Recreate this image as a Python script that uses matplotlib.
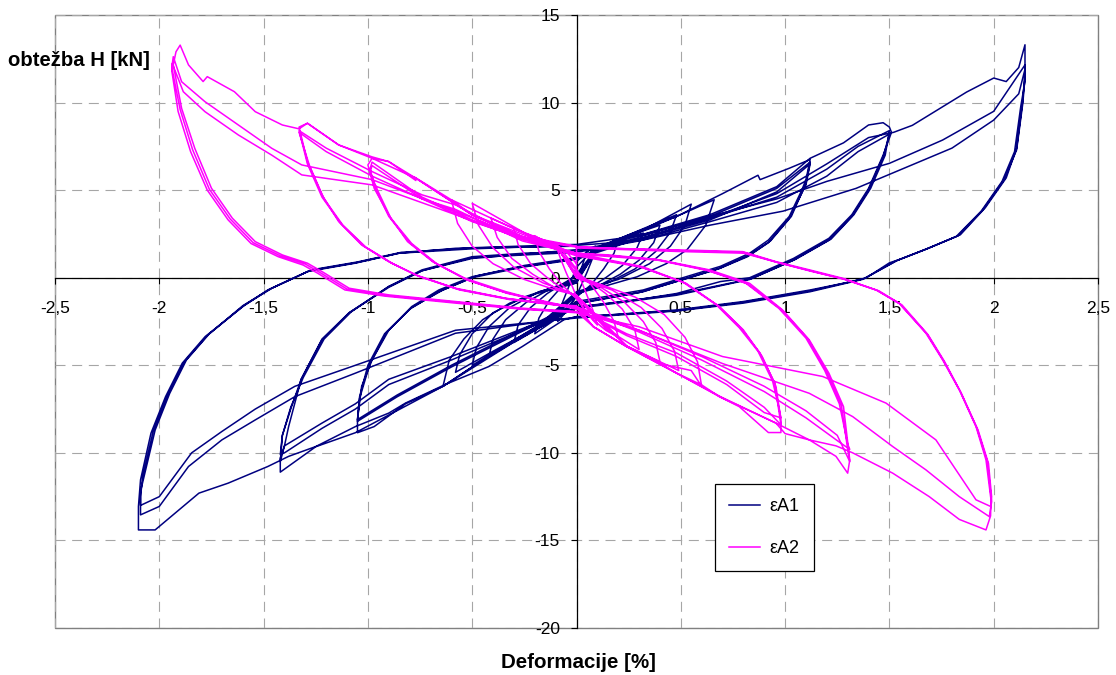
import matplotlib
matplotlib.use('Agg')
import matplotlib.pyplot as plt
from matplotlib.patches import Rectangle

plt.rcParams['font.family'] = ['Liberation Sans', 'DejaVu Sans']

# --- data: (deformation [%], load H [kN]) ---
# eA1, small cycles near the origin
A1_010 = [(0, 0.9), (0.05, 1.5), (0.09, 1.8), (0.08, 1.2), (0.05, 0.3), (0.02, -0.5), (0, -1.0),
          (-0.04, -1.8), (-0.09, -2.5), (-0.08, -1.8), (-0.05, -0.9), (-0.02, 0.0), (0, 0.6)]
A1_020 = [(0.08, 1.6), (0.16, 2.0), (0.2, 2.2), (0.18, 1.4), (0.13, 0.5), (0.07, -0.4), (0, -1.1),
          (-0.08, -2.2), (-0.14, -2.7), (-0.2, -3.2), (-0.18, -2.3), (-0.13, -1.3), (-0.07, -0.5), (0, 0.2)]
A1_030 = [(0.1, 1.7), (0.2, 2.2), (0.32, 2.55), (0.29, 1.7), (0.22, 0.7), (0.14, 0.0), (0.06, -0.6),
          (0, -1.0), (-0.14, -2.6), (-0.3, -3.7), (-0.28, -2.7), (-0.22, -1.7), (-0.14, -0.9),
          (-0.06, -0.3), (0, 0.1)]
A1_040 = [(0.1, 1.6), (0.24, 2.35), (0.40, 3.0), (0.37, 2.0), (0.30, 1.0), (0.21, 0.2), (0.10, -0.5),
          (0, -0.9), (-0.14, -2.5), (-0.29, -3.55), (-0.42, -4.5), (-0.40, -3.5), (-0.34, -2.4),
          (-0.24, -1.4), (-0.12, -0.6), (0, -0.1)]
A1_048 = [(0.1, 1.7), (0.24, 2.4), (0.48, 3.6), (0.45, 2.6), (0.38, 1.5), (0.28, 0.5), (0.15, -0.3),
          (0, -0.9), (-0.14, -2.5), (-0.29, -3.5), (-0.5, -5.0), (-0.48, -4.0), (-0.42, -2.8),
          (-0.32, -1.7), (-0.18, -0.8), (0, -0.2)]
A1_055 = [(0.1, 1.6), (0.3, 2.6), (0.55, 4.2), (0.52, 3.0), (0.45, 1.8), (0.35, 0.8), (0.2, -0.1),
          (0, -0.8), (-0.2, -2.9), (-0.4, -4.2), (-0.58, -5.4), (-0.56, -4.4), (-0.5, -3.2),
          (-0.4, -2.0), (-0.25, -1.1), (-0.1, -0.5), (0, -0.3)]
A1_066 = [(0.1, 1.7), (0.3, 2.6), (0.48, 3.5), (0.66, 4.45), (0.62, 3.0), (0.53, 1.6), (0.43, 0.8),
          (0.29, 0.05), (0.13, -0.5), (0, -0.9), (-0.14, -2.4), (-0.29, -3.5), (-0.45, -4.7),
          (-0.64, -6.2), (-0.61, -4.7), (-0.54, -3.5), (-0.45, -2.4), (-0.32, -1.45), (-0.19, -0.9),
          (-0.06, -0.5), (0, -0.3)]
# eA1, three cycles at 1.1 %
A1_112 = [(0.05, 1.5), (0.24, 2.4), (0.48, 3.5), (0.7, 4.8), (0.87, 5.85), (0.88, 5.6), (1.02, 6.25),
          (1.12, 6.75), (1.10, 5.6), (1.08, 5.0), (1.02, 3.5), (0.92, 2.15), (0.83, 1.4), (0.69, 0.65),
          (0.51, 0.0), (0.32, -0.7), (0.08, -1.2), (0, -1.35), (-0.14, -2.6), (-0.29, -3.6),
          (-0.45, -4.7), (-0.64, -6.2), (-0.82, -7.2), (-0.97, -8.5), (-1.05, -8.85), (-1.05, -8.1),
          (-1.03, -6.2), (-0.98, -4.7), (-0.90, -3.0), (-0.79, -1.65), (-0.66, -0.7), (-0.5, 0.06),
          (-0.26, 0.63), (-0.05, 1.0), (0, 1.1),
          (0.24, 2.1), (0.64, 3.5), (0.96, 5.1), (1.12, 6.6), (1.10, 5.4), (1.03, 3.5), (0.93, 2.1),
          (0.83, 1.3), (0.69, 0.55), (0.51, -0.1), (0.32, -0.8), (0.08, -1.3), (0, -1.45),
          (-0.3, -3.2), (-0.6, -5.0), (-0.86, -6.7), (-1.05, -8.1), (-1.04, -6.8), (-1.0, -5.0),
          (-0.92, -3.2), (-0.80, -1.8), (-0.66, -0.8), (-0.5, 0.0), (-0.26, 0.6), (0, 1.05),
          (0.24, 2.0), (0.64, 3.3), (0.96, 4.9), (1.12, 6.5), (1.10, 5.3), (1.02, 3.4), (0.92, 2.0),
          (0.82, 1.2), (0.68, 0.5), (0.5, -0.15), (0.3, -0.85), (0, -1.5), (-0.3, -3.3), (-0.6, -5.1),
          (-0.86, -6.8), (-1.05, -8.2), (-1.04, -6.9), (-0.99, -4.9), (-0.91, -3.1), (-0.79, -1.7),
          (-0.64, -0.7), (-0.48, 0.1), (-0.25, 0.7), (0, 1.15)]
# eA1, three cycles at 1.5 %
A1_150 = [(0.24, 2.2), (0.64, 3.6), (0.96, 5.2), (1.12, 6.82), (1.28, 7.7), (1.40, 8.72), (1.47, 8.85),
          (1.50, 8.6), (1.51, 8.3), (1.47, 7.0), (1.40, 5.1), (1.32, 3.6), (1.21, 2.25), (1.04, 1.1),
          (0.83, 0.0), (0.69, -0.22), (0.48, -0.9), (0.24, -1.36), (0, -1.65), (-0.29, -3.6),
          (-0.64, -6.2), (-1.06, -8.85), (-1.25, -9.65), (-1.42, -11.1), (-1.42, -10.3), (-1.40, -9.6),
          (-1.38, -8.5), (-1.32, -5.8), (-1.22, -3.55), (-1.09, -2.0), (-0.90, -0.5), (-0.74, 0.45),
          (-0.5, 1.2), (-0.25, 1.4), (0, 1.5),
          (0.3, 2.2), (0.64, 3.4), (0.96, 4.6), (1.2, 6.2), (1.35, 7.5), (1.5, 8.4), (1.48, 7.0),
          (1.41, 5.1), (1.33, 3.6), (1.22, 2.2), (1.05, 1.05), (0.84, -0.05), (0.48, -0.95), (0, -1.7),
          (-0.3, -3.1), (-0.6, -4.5), (-0.9, -5.8), (-1.06, -7.2), (-1.22, -8.3), (-1.40, -9.6),
          (-1.42, -10.5), (-1.41, -9.0), (-1.37, -7.5), (-1.32, -5.8), (-1.22, -3.5), (-1.09, -2.0),
          (-0.9, -0.55), (-0.74, 0.4), (-0.5, 1.15), (0, 1.45),
          (0.3, 2.1), (0.64, 3.2), (0.96, 4.3), (1.2, 5.8), (1.35, 7.2), (1.5, 8.2), (1.47, 6.9),
          (1.40, 5.0), (1.32, 3.5), (1.21, 2.15), (1.04, 1.0), (0.83, -0.1), (0.48, -1.0), (0, -1.75),
          (-0.3, -3.2), (-0.6, -4.7), (-0.9, -6.1), (-1.06, -7.5), (-1.22, -8.6), (-1.40, -10.0),
          (-1.42, -10.1), (-1.41, -9.0), (-1.37, -7.4), (-1.31, -5.7), (-1.21, -3.5), (-1.08, -1.95),
          (-0.9, -0.5), (-0.74, 0.4), (-0.5, 1.1), (0, 1.6)]
# eA1, three cycles at 2.1 %
A1_215 = [(0.3, 2.2), (0.64, 3.4), (0.96, 4.8), (1.2, 6.5), (1.40, 8.0), (1.52, 8.3), (1.61, 8.7),
          (1.87, 10.6), (2.0, 11.4), (2.06, 11.2), (2.12, 12.0), (2.15, 13.3), (2.15, 11.8),
          (2.14, 10.2), (2.11, 7.4), (2.06, 5.7), (1.96, 4.0), (1.84, 2.45), (1.69, 1.7), (1.55, 1.05),
          (1.50, 0.85), (1.39, 0.0), (1.32, -0.22), (1.12, -0.7), (0.8, -1.36), (0.48, -1.84),
          (0.16, -2.12), (0, -2.22), (-0.06, -2.4), (-0.26, -3.93), (-0.42, -5.07), (-0.63, -6.1),
          (-0.82, -7.16), (-0.90, -7.73), (-1.06, -8.5), (-1.25, -9.64), (-1.38, -10.2),
          (-1.48, -10.78), (-1.67, -11.73), (-1.81, -12.3), (-1.96, -13.8), (-2.02, -14.4),
          (-2.10, -14.4), (-2.10, -13.06), (-2.09, -11.54), (-2.04, -8.88), (-1.97, -6.79),
          (-1.89, -4.88), (-1.78, -3.36), (-1.6, -1.65), (-1.48, -0.7), (-1.29, 0.35), (-1.06, 0.83),
          (-0.85, 1.4), (-0.58, 1.68), (-0.1, 1.87), (0, 1.9),
          (0.3, 2.4), (0.64, 3.5), (0.96, 4.5), (1.2, 5.5), (1.5, 6.53), (1.755, 7.86), (2.0, 9.5),
          (2.15, 12.15), (2.15, 11.5), (2.14, 10.0), (2.11, 7.3), (2.05, 5.6), (1.95, 3.9), (1.83, 2.4),
          (1.68, 1.65), (1.54, 1.0), (1.38, -0.05), (1.12, -0.75), (0.8, -1.4), (0.48, -1.88),
          (0, -2.25), (-0.58, -3.17), (-0.82, -4.31), (-1.06, -5.45), (-1.35, -6.79), (-1.54, -8.12),
          (-1.70, -9.26), (-1.86, -10.78), (-2.0, -13.06), (-2.09, -13.54), (-2.09, -12.5),
          (-2.08, -11.4), (-2.03, -8.8), (-1.96, -6.7), (-1.88, -4.8), (-1.77, -3.3), (-1.6, -1.6),
          (-1.47, -0.65), (-1.28, 0.4), (-1.06, 0.85), (-0.85, 1.4), (-0.5, 1.65), (0, 1.85),
          (0.3, 2.1), (0.64, 3.0), (0.99, 3.8), (1.34, 5.1), (1.50, 5.9), (1.80, 7.4), (2.0, 9.0),
          (2.12, 10.5), (2.15, 11.9), (2.15, 11.2), (2.13, 9.8), (2.10, 7.2), (2.04, 5.5), (1.94, 3.8),
          (1.82, 2.35), (1.67, 1.6), (1.53, 0.95), (1.37, -0.1), (1.12, -0.8), (0.8, -1.45),
          (0.48, -1.9), (0, -2.3), (-0.58, -3.0), (-0.82, -4.0), (-1.06, -5.0), (-1.35, -6.2),
          (-1.54, -7.5), (-1.70, -8.78), (-1.845, -10.0), (-2.0, -12.5), (-2.09, -13.0),
          (-2.09, -12.2), (-2.07, -11.2), (-2.02, -8.7), (-1.95, -6.6), (-1.87, -4.7), (-1.76, -3.2),
          (-1.59, -1.55), (-1.46, -0.6), (-1.27, 0.45), (-1.05, 0.9), (-0.84, 1.45), (-0.5, 1.7),
          (0, 1.8)]

# eA2, small cycles near the origin
A2_010 = [(0, 0.8), (-0.05, 1.5), (-0.1, 1.9), (-0.08, 1.2), (-0.05, 0.3), (-0.02, -0.5), (0, -1.1),
          (0.04, -1.9), (0.1, -2.7), (0.08, -1.9), (0.05, -1.0), (0.02, -0.1), (0, 0.5)]
A2_020 = [(-0.08, 1.7), (-0.16, 2.1), (-0.2, 2.4), (-0.18, 1.5), (-0.13, 0.5), (-0.07, -0.4),
          (0, -1.2), (0.08, -2.4), (0.14, -3.0), (0.2, -3.4), (0.18, -2.5), (0.13, -1.4), (0.07, -0.4),
          (0, 0.4)]
A2_030 = [(-0.1, 1.8), (-0.2, 2.3), (-0.3, 2.8), (-0.28, 1.9), (-0.22, 0.8), (-0.14, 0.0),
          (-0.06, -0.7), (0, -1.1), (0.14, -2.9), (0.3, -4.1), (0.28, -3.0), (0.22, -1.8),
          (0.14, -0.9), (0.06, -0.2), (0, 0.2)]
A2_040 = [(-0.1, 1.8), (-0.24, 2.5), (-0.41, 3.4), (-0.38, 2.3), (-0.31, 1.1), (-0.21, 0.2),
          (-0.1, -0.6), (0, -1.0), (0.14, -2.8), (0.24, -3.9), (0.40, -4.8), (0.38, -3.7),
          (0.32, -2.5), (0.23, -1.4), (0.11, -0.5), (0, 0.0)]
A2_050 = [(-0.1, 1.9), (-0.24, 2.5), (-0.5, 4.25), (-0.47, 3.0), (-0.4, 1.7), (-0.3, 0.6),
          (-0.16, -0.3), (0, -1.0), (0.24, -3.9), (0.49, -5.3), (0.47, -4.2), (0.41, -2.9),
          (0.31, -1.7), (0.17, -0.7), (0, 0.0)]
A2_060 = [(-0.1, 1.9), (-0.3, 2.8), (-0.6, 4.45), (-0.57, 3.1), (-0.5, 1.8), (-0.4, 0.8),
          (-0.25, -0.1), (-0.1, -0.7), (0, -1.0), (0.24, -3.9), (0.40, -4.9), (0.55, -5.3),
          (0.6, -6.2), (0.58, -4.8), (0.52, -3.4), (0.42, -2.1), (0.28, -1.1), (0.12, -0.4), (0, 0.1)]
# eA2, three cycles at 1.0 %
A2_100 = [(0, 1.8), (-0.22, 2.3), (-0.5, 3.6), (-0.6, 4.45), (-0.78, 5.77), (-0.77, 5.55),
          (-0.9, 6.63), (-0.98, 6.82), (-1.0, 6.44), (-0.97, 5.11), (-0.90, 3.58), (-0.81, 2.06),
          (-0.69, 0.92), (-0.535, -0.03), (-0.34, -0.79), (-0.1, -1.55), (0, -1.7), (0.08, -2.79),
          (0.24, -3.93), (0.40, -4.88), (0.48, -5.45), (0.60, -6.12), (0.685, -6.79), (0.78, -7.36),
          (0.92, -8.84), (0.98, -8.84), (0.98, -8.1), (0.956, -6.2), (0.89, -4.5), (0.80, -2.98),
          (0.685, -1.65), (0.525, -0.32), (0.317, 0.63), (0.078, 1.2), (0, 1.3),
          (-0.22, 2.2), (-0.5, 3.3), (-0.74, 4.6), (-0.98, 6.6), (-0.99, 6.2), (-0.96, 5.0),
          (-0.90, 3.5), (-0.80, 2.0), (-0.68, 0.85), (-0.53, -0.1), (-0.34, -0.85), (0, -1.75),
          (0.24, -3.2), (0.48, -4.3), (0.72, -5.9), (0.9, -7.4), (0.98, -8.4), (0.97, -7.6),
          (0.95, -6.0), (0.88, -4.3), (0.79, -2.9), (0.68, -1.6), (0.52, -0.3), (0.31, 0.6), (0, 1.25),
          (-0.22, 2.1), (-0.5, 3.2), (-0.74, 4.5), (-0.98, 6.4), (-0.99, 6.0), (-0.95, 4.9),
          (-0.89, 3.4), (-0.79, 1.95), (-0.67, 0.8), (-0.52, -0.15), (-0.33, -0.9), (0, -1.8),
          (0.24, -3.3), (0.48, -4.5), (0.72, -6.1), (0.9, -7.7), (0.98, -8.0), (0.97, -7.4),
          (0.94, -5.9), (0.87, -4.2), (0.78, -2.85), (0.67, -1.55), (0.51, -0.25), (0.3, 0.65),
          (0, 1.3)]
# eA2, three cycles at 1.3 %
A2_133 = [(-0.26, 2.35), (-0.5, 3.58), (-0.77, 5.68), (-0.9, 6.63), (-0.98, 6.9), (-1.14, 7.58),
          (-1.29, 8.82), (-1.33, 8.6), (-1.29, 6.63), (-1.22, 4.73), (-1.14, 3.2), (-1.03, 1.87),
          (-0.90, 0.92), (-0.77, 0.16), (-0.58, -0.6), (-0.34, -1.17), (-0.1, -1.55), (0, -1.6),
          (0.08, -2.79), (0.24, -3.93), (0.48, -5.45), (0.685, -6.79), (0.956, -8.3), (1.0, -8.9),
          (1.116, -9.26), (1.244, -10.2), (1.30, -11.16), (1.31, -10.4), (1.28, -7.36), (1.21, -5.45),
          (1.116, -3.55), (0.988, -1.84), (0.83, -0.32), (0.637, 0.45), (0.397, 1.02), (0.157, 1.3),
          (0, 1.4),
          (-0.26, 2.2), (-0.58, 4.16), (-0.74, 4.73), (-0.98, 6.06), (-1.2, 7.4), (-1.33, 8.4),
          (-1.29, 6.5), (-1.22, 4.6), (-1.13, 3.1), (-1.02, 1.8), (-0.89, 0.85), (-0.76, 0.1),
          (-0.57, -0.65), (-0.33, -1.2), (0, -1.65), (0.3, -3.0), (0.6, -4.5), (0.9, -6.2),
          (1.1, -7.6), (1.25, -9.0), (1.31, -10.5), (1.30, -9.8), (1.27, -7.3), (1.20, -5.4),
          (1.11, -3.5), (0.98, -1.8), (0.82, -0.35), (0.63, 0.4), (0.39, 1.0), (0, 1.35),
          (-0.26, 2.1), (-0.58, 3.9), (-0.74, 4.5), (-0.98, 5.8), (-1.2, 7.2), (-1.33, 8.3),
          (-1.28, 6.4), (-1.21, 4.5), (-1.12, 3.0), (-1.01, 1.75), (-0.88, 0.8), (-0.75, 0.05),
          (-0.56, -0.7), (-0.32, -1.25), (0, -1.7), (0.3, -3.1), (0.6, -4.7), (0.9, -6.5),
          (1.1, -8.0), (1.25, -9.3), (1.31, -9.8), (1.30, -9.5), (1.26, -7.2), (1.19, -5.3),
          (1.10, -3.45), (0.97, -1.75), (0.81, -0.3), (0.62, 0.45), (0.38, 1.05), (0, 1.4)]
# eA2, three cycles at 1.9 %
A2_195 = [(-0.26, 2.35), (-0.5, 3.58), (-0.77, 5.68), (-0.98, 6.82), (-1.14, 7.58), (-1.29, 8.82),
          (-1.33, 8.5), (-1.41, 8.72), (-1.54, 9.48), (-1.64, 10.62), (-1.77, 11.48), (-1.79, 11.2),
          (-1.86, 12.15), (-1.90, 13.28), (-1.92, 12.9), (-1.933, 12.15), (-1.893, 9.67),
          (-1.83, 7.39), (-1.75, 5.11), (-1.65, 3.4), (-1.54, 2.06), (-1.41, 1.30), (-1.29, 0.83),
          (-1.22, 0.35), (-1.09, -0.60), (-0.90, -0.98), (-0.58, -1.36), (-0.26, -1.74), (0, -1.93),
          (0.08, -2.79), (0.24, -3.93), (0.48, -5.45), (0.69, -6.79), (0.956, -8.3), (1.116, -9.26),
          (1.244, -9.6), (1.324, -10.0), (1.516, -11.16), (1.691, -12.5), (1.835, -13.8),
          (1.963, -14.4), (1.985, -13.6), (1.987, -12.68), (1.963, -10.4), (1.915, -8.5),
          (1.835, -6.4), (1.755, -4.69), (1.675, -3.17), (1.547, -1.46), (1.436, -0.70),
          (1.276, -0.03), (1.116, 0.45), (0.956, 0.92), (0.797, 1.49), (0.477, 1.59), (0.16, 1.68),
          (0, 1.78),
          (-0.26, 2.3), (-0.58, 3.8), (-0.98, 5.6), (-1.317, 6.44), (-1.461, 7.39), (-1.621, 8.72),
          (-1.781, 10.05), (-1.893, 11.19), (-1.933, 12.62), (-1.94, 12.0), (-1.90, 9.6),
          (-1.84, 7.3), (-1.76, 5.05), (-1.66, 3.35), (-1.55, 2.0), (-1.42, 1.25), (-1.30, 0.78),
          (-1.23, 0.3), (-1.10, -0.65), (-0.91, -1.02), (-0.58, -1.4), (-0.26, -1.78), (0, -1.95),
          (0.3, -3.0), (0.7, -4.9), (1.116, -6.6), (1.324, -7.93), (1.516, -9.64), (1.675, -10.97),
          (1.835, -12.5), (1.979, -13.64), (1.99, -12.8), (1.97, -10.5), (1.92, -8.6), (1.84, -6.5),
          (1.76, -4.75), (1.68, -3.2), (1.55, -1.5), (1.44, -0.72), (1.28, -0.08), (1.12, 0.4),
          (0.96, 0.88), (0.8, 1.45), (0.48, 1.55), (0, 1.75),
          (-0.26, 2.2), (-0.58, 3.6), (-0.98, 5.3), (-1.317, 5.87), (-1.461, 7.0), (-1.621, 8.15),
          (-1.781, 9.48), (-1.885, 10.62), (-1.938, 12.24), (-1.94, 11.8), (-1.91, 9.5),
          (-1.85, 7.2), (-1.77, 5.0), (-1.67, 3.3), (-1.56, 1.95), (-1.43, 1.2), (-1.31, 0.72),
          (-1.24, 0.25), (-1.11, -0.7), (-0.92, -1.05), (-0.58, -1.45), (-0.26, -1.8), (0, -2.0),
          (0.3, -2.8), (0.7, -4.5), (1.18, -5.64), (1.484, -7.16), (1.723, -9.26), (1.915, -12.68),
          (1.987, -13.07), (1.99, -12.5), (1.975, -10.6), (1.925, -8.7), (1.845, -6.6),
          (1.765, -4.8), (1.685, -3.25), (1.56, -1.55), (1.45, -0.75), (1.29, -0.1), (1.13, 0.35),
          (0.97, 0.85), (0.8, 1.4), (0.48, 1.5), (0, 1.7)]

x_ticks = [-2.5, -2, -1.5, -1, -0.5, 0, 0.5, 1, 1.5, 2, 2.5]
x_tick_labels = ['-2,5', '-2', '-1,5', '-1', '-0,5', '0', '0,5', '1', '1,5', '2', '2,5']
y_ticks = [-20, -15, -10, -5, 0, 5, 10, 15]
y_tick_labels = ['-20', '-15', '-10', '-5', '0', '5', '10', '15']

eA1 = A1_010 + A1_020 + A1_030 + A1_040 + A1_048 + A1_055 + A1_066 + A1_112 + A1_150 + A1_215
eA2 = A2_010 + A2_020 + A2_030 + A2_040 + A2_050 + A2_060 + A2_100 + A2_133 + A2_195

fig = plt.figure(figsize=(11.16, 6.75), dpi=100)
ax = fig.add_axes([55 / 1116, 1 - 628 / 675, 1043 / 1116, 613 / 675])

ax.plot([p[0] for p in eA1], [p[1] for p in eA1], color='#000080', lw=1.1, label='εA1', zorder=3)
ax.plot([p[0] for p in eA2], [p[1] for p in eA2], color='#FF00FF', lw=1.1, label='εA2', zorder=3)

ax.set_xlim(-2.5, 2.5)
ax.set_ylim(-20, 15)
ax.set_xticks(x_ticks)
ax.set_xticklabels(x_tick_labels)
ax.set_yticks(y_ticks)
ax.set_yticklabels(y_tick_labels)
ax.grid(True, color='#a6a6a6', linestyle=(0, (9, 6)), lw=0.8)

# axes cross at the origin, like the spreadsheet chart
for side in ['left', 'bottom']:
    ax.spines[side].set_position(('data', 0))
    ax.spines[side].set_color('black')
    ax.spines[side].set_linewidth(0.9)
    ax.spines[side].set_zorder(2)
ax.spines['top'].set_visible(False)
ax.spines['right'].set_visible(False)
ax.add_patch(Rectangle((0, 0), 1, 1, transform=ax.transAxes, fill=False,
                       edgecolor='#808080', lw=1.0, clip_on=False, zorder=1))

ax.tick_params(axis='x', direction='out', length=4, pad=13, labelsize=12.5)
ax.tick_params(axis='y', direction='out', length=4, pad=8, labelsize=12.5)

fig.text(8 / 1116, 1 - 60 / 675, 'obtežba H [kN]', fontsize=14.6, fontweight='bold',
         ha='left', va='center')
fig.text(578 / 1116, 1 - 662 / 675, 'Deformacije [%]', fontsize=14.8, fontweight='bold',
         ha='center', va='center')

leg = ax.legend(loc='upper left', bbox_to_anchor=((715 - 55) / 1043, (628 - 484) / 613),
                borderaxespad=0, fontsize=13, handlelength=1.7, handletextpad=0.5,
                labelspacing=1.35, borderpad=0.8, fancybox=False, framealpha=1)
leg.get_frame().set_edgecolor('black')
leg.get_frame().set_linewidth(0.9)

fig.savefig('out.png', dpi=100)
